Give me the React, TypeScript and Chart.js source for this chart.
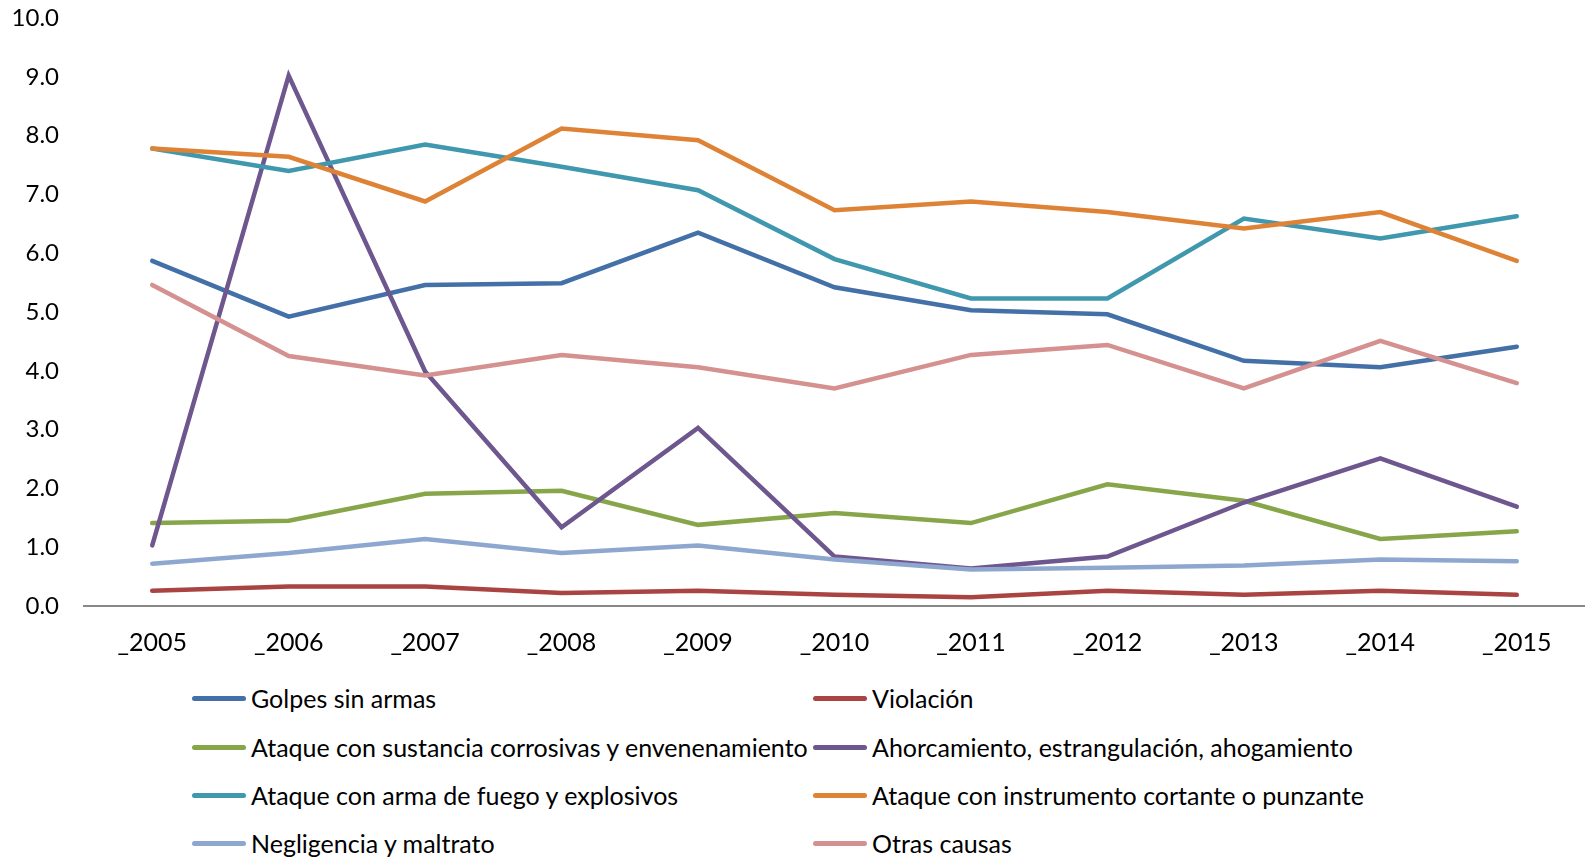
import React, { useEffect, useRef } from "react";
import { Chart, registerables } from "chart.js";

Chart.register(...registerables);

const categories = ["_2005", "_2006", "_2007", "_2008", "_2009", "_2010", "_2011", "_2012", "_2013", "_2014", "_2015"];

const golpesSinArmas = [5.87, 4.92, 5.46, 5.49, 6.35, 5.42, 5.03, 4.96, 4.17, 4.06, 4.41];
const violacion = [0.26, 0.33, 0.33, 0.22, 0.26, 0.19, 0.15, 0.26, 0.19, 0.26, 0.19];
const sustanciaCorrosiva = [1.41, 1.45, 1.91, 1.96, 1.38, 1.58, 1.41, 2.07, 1.79, 1.14, 1.27];
const ahorcamiento = [1.03, 9.02, 3.99, 1.34, 3.03, 0.84, 0.64, 0.84, 1.76, 2.51, 1.69];
const armaFuego = [7.78, 7.40, 7.85, 7.47, 7.07, 5.90, 5.23, 5.23, 6.59, 6.25, 6.63];
const instrumentoCortante = [7.78, 7.64, 6.88, 8.12, 7.92, 6.73, 6.88, 6.70, 6.42, 6.70, 5.87];
const negligencia = [0.72, 0.90, 1.14, 0.90, 1.03, 0.79, 0.62, 0.65, 0.69, 0.79, 0.76];
const otrasCausas = [5.46, 4.25, 3.92, 4.27, 4.06, 3.70, 4.27, 4.44, 3.70, 4.51, 3.79];

const seriesNames = [
  "Golpes sin armas",
  "Violación",
  "Ataque con sustancia corrosivas y envenenamiento",
  "Ahorcamiento, estrangulación, ahogamiento",
  "Ataque con arma de fuego y explosivos",
  "Ataque con instrumento cortante o punzante",
  "Negligencia y maltrato",
  "Otras causas",
];
const seriesValues = [golpesSinArmas, violacion, sustanciaCorrosiva, ahorcamiento, armaFuego, instrumentoCortante, negligencia, otrasCausas];
const seriesColors = ["#4470a8", "#a94442", "#87a64a", "#6e568f", "#3f98ae", "#de8336", "#8ea7cf", "#d49190"];

const yTicks = [0, 1, 2, 3, 4, 5, 6, 7, 8, 9, 10];

const FONT = "Lato, 'Open Sans', sans-serif";

export default function App() {
  const ref = useRef<HTMLCanvasElement | null>(null);

  useEffect(() => {
    if (!ref.current) return;
    const n = seriesNames.length;
    const chart = new Chart(ref.current, {
      type: "line",
      data: {
        labels: categories,
        datasets: seriesNames.map((name, i) => ({
          label: name,
          data: seriesValues[i],
          borderColor: seriesColors[i],
          backgroundColor: seriesColors[i],
          borderWidth: 4.5,
          borderCapStyle: "round" as const,
          pointRadius: 0,
          tension: 0,
          fill: false,
          order: n - i,
        })),
      },
      options: {
        responsive: false,
        animation: false,
        layout: { padding: { top: 18, left: 0, right: 0, bottom: 0 } },
        plugins: { legend: { display: false }, tooltip: { enabled: false } },
        scales: {
          x: {
            type: "category",
            offset: true,
            grid: { display: false, drawTicks: false },
            border: { display: true, color: "#888888", width: 2 },
            ticks: { color: "#000", font: { family: FONT, size: 25 }, padding: 22, maxRotation: 0, autoSkip: false },
            afterFit: (s: any) => { s.height = 55; s.paddingTop = 0; },
          },
          y: {
            min: 0,
            max: 10,
            afterBuildTicks: (s: any) => { s.ticks = yTicks.map((v) => ({ value: v })); },
            grid: { display: false, drawTicks: false },
            border: { display: false },
            ticks: {
              color: "#000",
              font: { family: FONT, size: 24 },
              padding: 25,
              callback: (v: any) => Number(v).toFixed(1),
            },
            afterFit: (s: any) => { s.width = 84; s.paddingTop = 0; s.paddingBottom = 0; },
          },
        },
      },
    });
    return () => chart.destroy();
  }, []);

  const rowY = [698, 747, 795, 843];
  const colSample = [192, 813];
  const colText = [251, 872];

  return (
    <div style={{ position: "absolute", left: 0, top: 0, width: 1585, height: 857, background: "#fff", fontFamily: FONT }}>
      <canvas ref={ref} width={1585} height={661} style={{ position: "absolute", left: 0, top: 0 }} />
      {seriesNames.map((name, i) => {
        const r = Math.floor(i / 2);
        const c = i % 2;
        return (
          <React.Fragment key={name}>
            <div
              style={{
                position: "absolute",
                left: colSample[c],
                top: rowY[r] - 2.5,
                width: 54,
                height: 5,
                borderRadius: 3,
                background: seriesColors[i],
              }}
            />
            <div
              style={{
                position: "absolute",
                left: colText[c],
                top: rowY[r] - 17,
                height: 34,
                lineHeight: "34px",
                fontSize: 25,
                color: "#000",
                whiteSpace: "nowrap",
              }}
            >
              {name}
            </div>
          </React.Fragment>
        );
      })}
    </div>
  );
}
